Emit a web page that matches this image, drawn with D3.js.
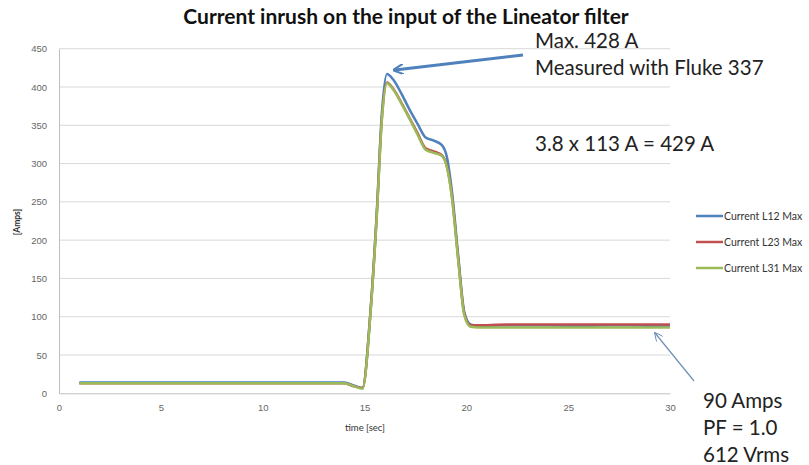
<!DOCTYPE html>
<html>
<head>
<meta charset="utf-8">
<script src="https://cdn.jsdelivr.net/npm/d3@7"></script>
<style>
  body { margin: 0; background: #fff; overflow: hidden; }
  svg { display: block; font-family: Lato, "Open Sans", sans-serif; }
  .tick text { fill: #666; font-size: 9.5px; }
  .note { font-size: 20.5px; fill: #222; }
</style>
</head>
<body>
<svg id="chart" width="809" height="465"></svg>
<script>
const TIME = [1, 2, 3, 4, 5, 6, 7, 8, 9, 10, 11, 12, 13, 14, 14.5, 14.9, 15.3, 15.6, 15.85, 16.1,
  16.4, 16.8, 17.2, 17.6, 18, 18.4, 18.8, 19.05, 19.3, 19.6, 19.9, 20.2, 20.6, 21,
  22, 23, 24, 25, 26, 27, 28, 29, 30];

const L12 = [14, 14, 14, 14, 14, 14, 14, 14, 14, 14, 14, 14, 14, 14, 10, 7, 110, 235, 365, 417,
  410, 392, 371, 352, 334, 330, 324, 308, 262, 180, 106, 90, 88, 88,
  89, 89, 89, 88, 88, 89, 89, 88, 88];

const L23 = [13, 13, 13, 13, 13, 13, 13, 13, 13, 13, 13, 13, 13, 13, 9, 7, 108, 232, 358, 406,
  398, 380, 360, 340, 320, 316, 311, 296, 256, 176, 104, 89, 89, 89,
  90, 90, 90, 90, 90, 90, 90, 90, 90];

const L31 = [13, 13, 13, 13, 13, 13, 13, 13, 13, 13, 13, 13, 13, 13, 9, 6, 106, 230, 356, 405,
  397, 379, 359, 338, 318, 314, 310, 295, 254, 174, 102, 87, 86, 86,
  86, 86, 86, 86, 86, 86, 86, 86, 86];

const SERIES = [
  { name: "Current L12 Max", values: L12, color: "#4f81bd" },
  { name: "Current L23 Max", values: L23, color: "#c0504d" },
  { name: "Current L31 Max", values: L31, color: "#9bbb59" },
];

const X_TICKS = [0, 5, 10, 15, 20, 25, 30];
const Y_TICKS = [0, 50, 100, 150, 200, 250, 300, 350, 400, 450];

const svg = d3.select("#chart");

const x = d3.scaleLinear().domain([0, 30]).range([59, 670]);
const y = d3.scaleLinear().domain([0, 450]).range([393.3, 48.7]);

// Gridlines
svg.append("g")
  .selectAll("line")
  .data(Y_TICKS.filter((d) => d > 0))
  .join("line")
  .attr("x1", x(0))
  .attr("x2", x(30))
  .attr("y1", (d) => y(d))
  .attr("y2", (d) => y(d))
  .attr("stroke", "#d9d9d9")
  .attr("stroke-width", 1);

// Axes
const yAxis = svg.append("g")
  .attr("transform", `translate(${x(0)},0)`)
  .call(d3.axisLeft(y).tickValues(Y_TICKS).tickSize(0).tickPadding(12));
yAxis.select(".domain").attr("stroke", "#bfbfbf");

const xAxis = svg.append("g")
  .attr("transform", `translate(0,${y(0)})`)
  .call(d3.axisBottom(x).tickValues(X_TICKS).tickSize(0).tickPadding(11));
xAxis.select(".domain").attr("stroke", "#bfbfbf");

// Axis titles
svg.append("text")
  .attr("x", 365)
  .attr("y", 431)
  .attr("text-anchor", "middle")
  .attr("font-size", 9.5)
  .attr("fill", "#333")
  .text("time [sec]");

svg.append("text")
  .attr("transform", "translate(20,222) rotate(-90)")
  .attr("text-anchor", "middle")
  .attr("font-size", 8.5)
  .attr("font-weight", "bold")
  .attr("fill", "#333")
  .text("[Amps]");

// Title
svg.append("text")
  .attr("x", 406)
  .attr("y", 24)
  .attr("text-anchor", "middle")
  .attr("font-size", 21)
  .attr("font-weight", "bold")
  .attr("fill", "#111")
  .text("Current inrush on the input of the Lineator filter");

// Lines
const line = d3.line()
  .x((d, i) => x(TIME[i]))
  .y((d) => y(d))
  .curve(d3.curveMonotoneX);

svg.append("g")
  .selectAll("path")
  .data(SERIES)
  .join("path")
  .attr("fill", "none")
  .attr("stroke", (d) => d.color)
  .attr("stroke-width", 2.5)
  .attr("stroke-linejoin", "round")
  .attr("d", (d) => line(d.values));

// Legend
const legend = svg.append("g")
  .selectAll("g")
  .data(SERIES)
  .join("g")
  .attr("transform", (d, i) => `translate(696,${216 + i * 26})`);

legend.append("line")
  .attr("x1", 0)
  .attr("x2", 27)
  .attr("stroke", (d) => d.color)
  .attr("stroke-width", 2.5);

legend.append("text")
  .attr("x", 28)
  .attr("y", 4)
  .attr("font-size", 10.5)
  .attr("fill", "#333")
  .text((d) => d.name);

// Arrow markers
const defs = svg.append("defs");
defs.append("marker")
  .attr("id", "arrow-big")
  .attr("viewBox", "0 -5 10 10")
  .attr("refX", 8)
  .attr("refY", 0)
  .attr("markerWidth", 3.5)
  .attr("markerHeight", 3.5)
  .attr("orient", "auto")
  .append("path")
  .attr("d", "M0,-5L10,0L0,5")
  .attr("fill", "none")
  .attr("stroke", "#4f81bd")
  .attr("stroke-width", 2);

defs.append("marker")
  .attr("id", "arrow-small")
  .attr("viewBox", "0 -5 10 10")
  .attr("refX", 9)
  .attr("refY", 0)
  .attr("markerWidth", 7)
  .attr("markerHeight", 7)
  .attr("orient", "auto")
  .append("path")
  .attr("d", "M0,-5L10,0L0,5")
  .attr("fill", "none")
  .attr("stroke", "#6f8fb5")
  .attr("stroke-width", 1.2);

// Annotation arrows
svg.append("line")
  .attr("x1", 523)
  .attr("y1", 55)
  .attr("x2", 395)
  .attr("y2", 70)
  .attr("stroke", "#4f81bd")
  .attr("stroke-width", 3)
  .attr("marker-end", "url(#arrow-big)");

svg.append("line")
  .attr("x1", 694)
  .attr("y1", 381)
  .attr("x2", 655)
  .attr("y2", 333)
  .attr("stroke", "#6f8fb5")
  .attr("stroke-width", 1.2)
  .attr("marker-end", "url(#arrow-small)");

// Notes
const notes = [
  { text: "Max. 428 A", x: 535, y: 48 },
  { text: "Measured with Fluke 337", x: 535, y: 75 },
  { text: "3.8 x 113 A = 429 A", x: 535, y: 151 },
  { text: "90 Amps", x: 703, y: 408 },
  { text: "PF = 1.0", x: 703, y: 435 },
  { text: "612 Vrms", x: 703, y: 462 },
];

svg.append("g")
  .selectAll("text")
  .data(notes)
  .join("text")
  .attr("class", "note")
  .attr("x", (d) => d.x)
  .attr("y", (d) => d.y)
  .text((d) => d.text);
</script>
</body>
</html>
